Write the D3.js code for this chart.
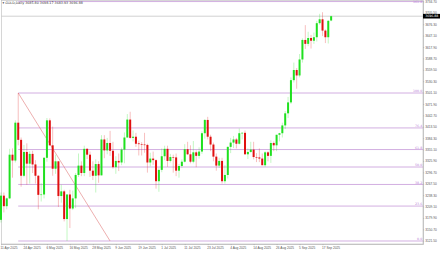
<!DOCTYPE html>
<html lang="en">
<head>
<meta charset="UTF-8">
<title>GOLD, Daily</title>
<script src="https://d3js.org/d3.v7.min.js"></script>
<style>
  html, body { margin: 0; padding: 0; background: #fff; }
  svg { display: block; font-family: "DejaVu Sans", sans-serif; }
  .axis text { font-size: 3.2px; fill: #555; }
  .axis path, .axis line { stroke: #aaa; stroke-width: 0.6; }
  .fib line { stroke: #c79ad9; stroke-width: 0.8; }
  .fib text { font-size: 3.2px; fill: #b783d4; }
</style>
</head>
<body>
<div id="chart"></div>
<script>
// header text (symbol, timeframe, last bar O H L C)
const headerText = "\u25BE GOLD,Daily  3685.80 3698.17 3683.93 3696.88";

// daily candles, [open, high, low, close], 11 Apr 2025 .. 22 Sep 2025
const candles = [
  [3175, 3245, 3168, 3237], [3237, 3245, 3194, 3210], [3210, 3232, 3202, 3230], [3230, 3357, 3229, 3342],
  [3342, 3358, 3283, 3327], [3327, 3430, 3322, 3424], [3424, 3500.05, 3366, 3380], [3380, 3386, 3260, 3288],
  [3288, 3367, 3284, 3349], [3349, 3371, 3265, 3319], [3319, 3351, 3268, 3344], [3344, 3352, 3295, 3317],
  [3317, 3328, 3268, 3288], [3288, 3290, 3202, 3239], [3239, 3269, 3222, 3240], [3240, 3336, 3230, 3334],
  [3334, 3436, 3324, 3430], [3430, 3435, 3365, 3366], [3366, 3414, 3288, 3306], [3306, 3342, 3293, 3325],
  [3325, 3325, 3208, 3236], [3236, 3265, 3219, 3248], [3248, 3252, 3171, 3177], [3177, 3240, 3120.8, 3240],
  [3240, 3252, 3154, 3204], [3204, 3250, 3200, 3230], [3230, 3295, 3205, 3290], [3290, 3345, 3285, 3314],
  [3314, 3325, 3287, 3295], [3295, 3365, 3287, 3357], [3357, 3359, 3331, 3342], [3342, 3350, 3285, 3301],
  [3301, 3325, 3277, 3288], [3288, 3330, 3245, 3318], [3318, 3325, 3270, 3289], [3289, 3392, 3289, 3381],
  [3381, 3392, 3333, 3353], [3353, 3385, 3343, 3372], [3372, 3403, 3339, 3352], [3352, 3375, 3306, 3310],
  [3310, 3338, 3293, 3326], [3326, 3345, 3300, 3322], [3322, 3360, 3315, 3355], [3355, 3399, 3320, 3386],
  [3386, 3446, 3386, 3432], [3432, 3452, 3383, 3385], [3385, 3404, 3376, 3388], [3388, 3398, 3362, 3370],
  [3371, 3378, 3340, 3369], [3369, 3374, 3340, 3368], [3368, 3398, 3347, 3367], [3367, 3370, 3296, 3322],
  [3322, 3347, 3312, 3332], [3332, 3350, 3316, 3328], [3328, 3330, 3255, 3274], [3274, 3309, 3247, 3303],
  [3303, 3358, 3297, 3338], [3338, 3365, 3328, 3357], [3357, 3365, 3311, 3326], [3326, 3344, 3322, 3336],
  [3336, 3342, 3296, 3335], [3335, 3345, 3287, 3301], [3301, 3318, 3283, 3313], [3313, 3330, 3309, 3324],
  [3324, 3369, 3322, 3356], [3356, 3375, 3341, 3343], [3343, 3366, 3320, 3324], [3324, 3377, 3320, 3348],
  [3348, 3353, 3310, 3339], [3339, 3361, 3332, 3350], [3350, 3402, 3344, 3397], [3397, 3433, 3383, 3431],
  [3431, 3439, 3381, 3388], [3388, 3393, 3351, 3368], [3368, 3373, 3325, 3337], [3337, 3345, 3301, 3314],
  [3314, 3334, 3308, 3326], [3326, 3334, 3268, 3274], [3274, 3315, 3268, 3290], [3290, 3363, 3281, 3362],
  [3362, 3385, 3346, 3373], [3373, 3390, 3359, 3381], [3381, 3385, 3358, 3370], [3370, 3409, 3368, 3397],
  [3397, 3400, 3381, 3398], [3398, 3404, 3342, 3343], [3343, 3358, 3331, 3349], [3349, 3375, 3347, 3355],
  [3355, 3375, 3330, 3336], [3336, 3346, 3323, 3335], [3335, 3358, 3323, 3332], [3332, 3345, 3315, 3315],
  [3315, 3351, 3311, 3348], [3348, 3351, 3325, 3339], [3339, 3379, 3321, 3372], [3372, 3376, 3351, 3366],
  [3366, 3393, 3351, 3393], [3393, 3398, 3376, 3397], [3397, 3424, 3386, 3417], [3417, 3454, 3408, 3448],
  [3448, 3490, 3436, 3476], [3476, 3540, 3472, 3533], [3533, 3578, 3527, 3559], [3559, 3564, 3511, 3545],
  [3545, 3600, 3540, 3586], [3586, 3640, 3578, 3636], [3636, 3674, 3613, 3626], [3626, 3657, 3620, 3641],
  [3641, 3649, 3614, 3634], [3634, 3655, 3626, 3643], [3643, 3685, 3632, 3679], [3679, 3703, 3675, 3689],
  [3689, 3707, 3646, 3660], [3660, 3663, 3628, 3643], [3643, 3687, 3627, 3685], [3685.80, 3698.17, 3683.93, 3696.88]
];

// time axis labels and the bar each one sits on
const dateLabels = ["11 Apr 2025", "24 Apr 2025", "6 May 2025", "16 May 2025", "28 May 2025", "9 Jun 2025",
  "19 Jun 2025", "1 Jul 2025", "11 Jul 2025", "23 Jul 2025", "4 Aug 2025", "14 Aug 2025", "26 Aug 2025",
  "5 Sep 2025", "17 Sep 2025"];
const dateLabelBars = [0, 8, 16, 24, 32, 40, 48, 56, 64, 72, 80, 88, 96, 104, 112];

// price axis labels
const priceTicks = [3121.50, 3150.70, 3179.90, 3209.10, 3238.30, 3267.50, 3296.70, 3325.90, 3355.10,
  3384.30, 3413.50, 3442.70, 3471.90, 3501.10, 3530.30, 3559.50, 3588.70, 3617.90, 3647.10, 3676.30,
  3705.50, 3734.70];

// fibonacci retracement: anchor points and levels
const fibFrom = { bar: 6, price: 3500.05 };
const fibTo = { bar: 38, price: 3120.80 };
const fibLevels = [0, 23.6, 38.2, 50, 61.8, 76.4, 100, 161.8];

const width = 440, height = 254;
const plotRight = 423, plotBottom = 244;

const svg = d3.select('#chart').append('svg')
  .attr('width', width)
  .attr('height', height);

// scales
const x = d3.scaleLinear().domain([0, 147]).range([1, plotRight]);
const y = d3.scaleLinear().domain([3113.1, 3738.4]).range([plotBottom, 0]);
const bodyW = 2;

// frame
svg.append('rect')
  .attr('x', 1.5).attr('y', 0.3)
  .attr('width', plotRight - 1.5).attr('height', plotBottom - 0.3)
  .attr('fill', 'none').attr('stroke', '#bbb').attr('stroke-width', 0.6);

// fibonacci levels
const fibPrice = l => fibTo.price + (fibFrom.price - fibTo.price) * l / 100;
const fib = svg.append('g').attr('class', 'fib');
fib.selectAll('line.level')
  .data(fibLevels)
  .enter().append('line')
  .attr('class', 'level')
  .attr('x1', x(fibFrom.bar)).attr('x2', plotRight)
  .attr('y1', d => y(fibPrice(d))).attr('y2', d => y(fibPrice(d)));
fib.selectAll('text')
  .data(fibLevels)
  .enter().append('text')
  .attr('x', plotRight - 0.8)
  .attr('y', d => Math.max(3.2, y(fibPrice(d)) - 0.6))
  .attr('text-anchor', 'end')
  .text(d => d.toFixed(1));
fib.append('line')
  .attr('x1', x(fibFrom.bar)).attr('y1', y(fibFrom.price))
  .attr('x2', x(fibTo.bar)).attr('y2', y(fibTo.price))
  .style('stroke', '#e07878').style('stroke-width', 0.6);

// current price line
const last = candles[candles.length - 1][3];
svg.append('line')
  .attr('x1', 1.5).attr('x2', plotRight)
  .attr('y1', y(last)).attr('y2', y(last))
  .attr('stroke', '#bdbdbd').attr('stroke-width', 0.7);

// candles
const colorOf = d => d[3] >= d[0] ? '#1fe01f' : '#e01010';
const bars = svg.append('g').selectAll('g')
  .data(candles)
  .enter().append('g');
bars.append('line')
  .attr('x1', (d, i) => x(i)).attr('x2', (d, i) => x(i))
  .attr('y1', d => y(d[1])).attr('y2', d => y(d[2]))
  .attr('stroke', colorOf).attr('stroke-opacity', 0.45).attr('stroke-width', 0.6);
bars.append('rect')
  .attr('x', (d, i) => x(i) - bodyW / 2)
  .attr('y', d => y(Math.max(d[0], d[3])))
  .attr('width', bodyW)
  .attr('height', d => Math.max(0.6, Math.abs(y(d[0]) - y(d[3]))))
  .attr('fill', colorOf);

// price axis
svg.append('g')
  .attr('class', 'axis')
  .attr('transform', `translate(${plotRight},0)`)
  .call(d3.axisRight(y).tickValues(priceTicks).tickSize(1.2).tickSizeOuter(0).tickPadding(1)
    .tickFormat(d3.format('.2f')));

// time axis
const xAxis = svg.append('g')
  .attr('class', 'axis')
  .attr('transform', `translate(0,${plotBottom})`)
  .call(d3.axisBottom(x).tickValues(dateLabelBars).tickSize(1.2).tickSizeOuter(0).tickPadding(1.8)
    .tickFormat((d, i) => dateLabels[i]));
xAxis.selectAll('text').attr('text-anchor', 'start').attr('dx', -1);

// current price box
svg.append('rect')
  .attr('x', plotRight).attr('y', y(last) - 2.3)
  .attr('width', width - plotRight).attr('height', 4.6)
  .attr('fill', '#000');
svg.append('text')
  .attr('x', plotRight + 2.2).attr('y', y(last) + 1.1)
  .style('font-size', '3.2px').style('fill', '#fff')
  .text(last.toFixed(2));

// header
svg.append('text')
  .attr('x', 2.5).attr('y', 4.3)
  .style('font-size', '3.3px').style('fill', '#333')
  .text(headerText);
</script>
</body>
</html>
